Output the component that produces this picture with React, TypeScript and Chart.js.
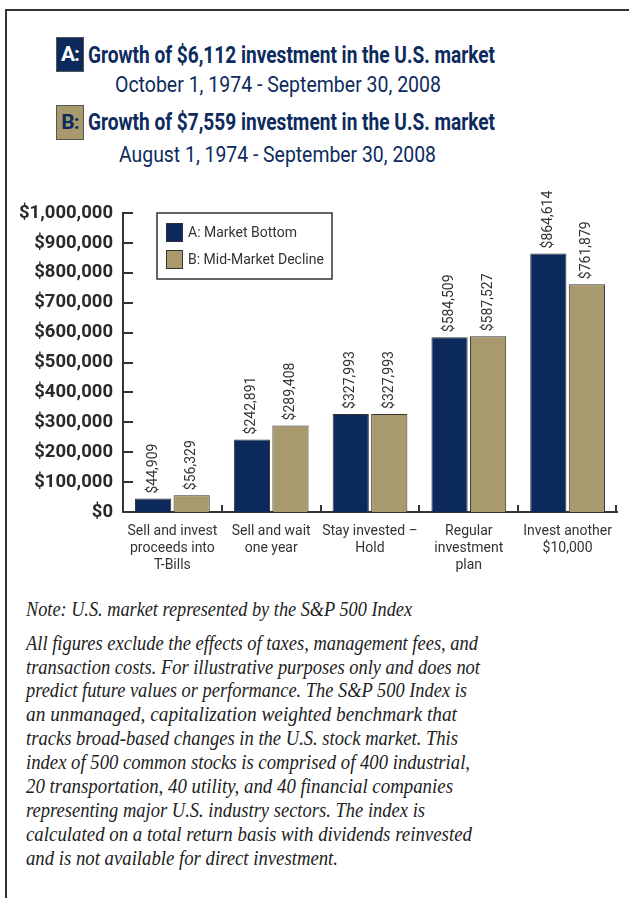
import React, { useEffect, useLayoutEffect, useRef } from "react";
import { Chart, registerables } from "chart.js";

Chart.register(...registerables);

// ---------- DATA ----------
const categories: string[][] = [
  ["Sell and invest", "proceeds into", "T-Bills"],
  ["Sell and wait", "one year"],
  ["Stay invested –", "Hold"],
  ["Regular", "investment", "plan"],
  ["Invest another", "$10,000"],
];
const seriesLabels = ["A: Market Bottom", "B: Mid-Market Decline"];
const marketBottom = [44909, 242891, 327993, 584509, 864614];
const midMarketDecline = [56329, 289408, 327993, 587527, 761879];
const yMin = 0;
const yMax = 1000000;
const yStep = 100000;

const titleA = "Growth of $6,112 investment in the U.S. market";
const subtitleA = "October 1, 1974 - September 30, 2008";
const titleB = "Growth of $7,559 investment in the U.S. market";
const subtitleB = "August 1, 1974 - September 30, 2008";

const noteText = "Note: U.S. market represented by the S&P 500 Index";
const disclaimerLines = [
  "All figures exclude the effects of taxes, management fees, and",
  "transaction costs. For illustrative purposes only and does not",
  "predict future values or performance. The S&P 500 Index is",
  "an unmanaged, capitalization weighted benchmark that",
  "tracks broad-based changes in the U.S. stock market. This",
  "index of 500 common stocks is comprised of 400 industrial,",
  "20 transportation, 40 utility, and 40 financial companies",
  "representing major U.S. industry sectors. The index is",
  "calculated on a total return basis with dividends reinvested",
  "and is not available for direct investment.",
];

// ---------- LAYOUT / STYLE ----------
const NAVY = "#0b2a5b";
const KHAKI = "#a89a6c";
const TEXT_NAVY = "#0d2b5e";
const DARK = "#333333";
const SANS = "Roboto, 'Noto Sans', sans-serif";
const SERIF = "'Liberation Serif', 'DejaVu Serif', serif";
const disclaimerWidths = [452, 454, 441, 431, 432, 444, 427, 399, 446, 312];
const CANVAS_TOP = 180;
const CANVAS_W = 629;
const CANVAS_H = 410;

function FitText(props: { text: string; left: number; top: number; width: number; style: React.CSSProperties }) {
  const ref = useRef<HTMLSpanElement>(null);
  useLayoutEffect(() => {
    const el = ref.current;
    if (!el) return;
    el.style.transform = "none";
    const w = el.getBoundingClientRect().width;
    if (w > 0) el.style.transform = `scaleX(${props.width / w})`;
  }, [props.text, props.width]);
  return (
    <span
      ref={ref}
      style={{
        position: "absolute",
        left: props.left,
        top: props.top,
        whiteSpace: "nowrap",
        display: "inline-block",
        transformOrigin: "0 0",
        ...props.style,
      }}
    >
      {props.text}
    </span>
  );
}

const fmt = (v: number) => "$" + v.toLocaleString("en-US");

const decorPlugin = {
  id: "decor",
  afterDatasetsDraw(chart: any) {
    const { ctx, chartArea, scales } = chart;
    const ys = scales.y;
    ctx.save();
    ctx.strokeStyle = DARK;
    ctx.lineWidth = 2;
    // inward y ticks
    ys.ticks.forEach((t: any) => {
      const py = Math.round(ys.getPixelForValue(t.value));
      ctx.beginPath();
      ctx.moveTo(chartArea.left, py);
      ctx.lineTo(chartArea.left + 10, py);
      ctx.stroke();
    });
    // category boundary ticks on x axis
    const n = chart.data.labels.length;
    const cw = (chartArea.right - chartArea.left) / n;
    for (let i = 1; i <= n; i++) {
      const px = Math.round(chartArea.left + i * cw) - (i === n ? 1 : 0);
      ctx.beginPath();
      ctx.moveTo(px, chartArea.bottom);
      ctx.lineTo(px, chartArea.bottom - 7);
      ctx.stroke();
    }
    // rotated value labels
    ctx.fillStyle = DARK;
    ctx.font = `14px ${SANS}`;
    ctx.textAlign = "left";
    ctx.textBaseline = "middle";
    chart.data.datasets.forEach((ds: any, di: number) => {
      const meta = chart.getDatasetMeta(di);
      meta.data.forEach((bar: any, i: number) => {
        ctx.save();
        ctx.translate(bar.x, bar.y - 5);
        ctx.rotate(-Math.PI / 2);
        ctx.fillText(fmt(ds.data[i]), 0, 0);
        ctx.restore();
      });
    });
    // legend box
    const bx = chartArea.left + 34;
    const by = chartArea.top;
    const bw = 175;
    const bh = 66;
    ctx.fillStyle = "#ffffff";
    ctx.fillRect(bx, by, bw, bh);
    ctx.lineWidth = 1.5;
    ctx.strokeStyle = DARK;
    ctx.strokeRect(bx, by, bw, bh);
    chart.data.datasets.forEach((ds: any, di: number) => {
      const sy = by + 10 + di * 27;
      ctx.fillStyle = ds.backgroundColor;
      ctx.fillRect(bx + 9, sy, 16, 18);
      ctx.lineWidth = 1;
      ctx.strokeStyle = DARK;
      ctx.strokeRect(bx + 9.5, sy + 0.5, 16, 18);
      ctx.fillStyle = DARK;
      ctx.font = `14px ${SANS}`;
      ctx.textBaseline = "middle";
      ctx.fillText(ds.label, bx + 31, sy + 10);
    });
    ctx.restore();
  },
};

function BarChart() {
  const ref = useRef<HTMLCanvasElement>(null);
  useEffect(() => {
    if (!ref.current) return;
    const chart = new Chart(ref.current, {
      type: "bar",
      data: {
        labels: categories,
        datasets: [
          {
            label: seriesLabels[0],
            data: marketBottom,
            backgroundColor: NAVY,
            borderColor: DARK,
            borderWidth: 1,
            categoryPercentage: 0.78,
            barPercentage: 0.94,
          },
          {
            label: seriesLabels[1],
            data: midMarketDecline,
            backgroundColor: KHAKI,
            borderColor: DARK,
            borderWidth: 1,
            categoryPercentage: 0.78,
            barPercentage: 0.94,
          },
        ],
      },
      options: {
        responsive: false,
        animation: false,
        layout: { padding: { left: 0, right: 12, top: 33, bottom: 0 } },
        plugins: { legend: { display: false }, tooltip: { enabled: false } },
        scales: {
          x: {
            grid: { display: false, drawTicks: false },
            border: { display: true, color: DARK, width: 2 },
            ticks: {
              color: DARK,
              font: { family: SANS, size: 14, lineHeight: 1.22 },
              padding: 11,
              maxRotation: 0,
              autoSkip: false,
            },
            afterFit: (s: any) => {
              s.height = 78;
            },
          },
          y: {
            min: yMin,
            max: yMax,
            grid: { display: false, drawTicks: false },
            border: { display: true, color: DARK, width: 2 },
            ticks: {
              stepSize: yStep,
              color: "#2a2a2a",
              font: { family: SANS, size: 18.5, weight: "bold" },
              padding: 10,
              callback: (v: any) => fmt(Number(v)),
            },
            afterFit: (s: any) => {
              s.width = 123;
            },
          },
        },
      },
      plugins: [decorPlugin],
    });
    return () => chart.destroy();
  }, []);
  return (
    <canvas
      ref={ref}
      width={CANVAS_W}
      height={CANVAS_H}
      style={{ position: "absolute", left: 0, top: CANVAS_TOP, width: CANVAS_W, height: CANVAS_H, display: "block" }}
    />
  );
}

export default function App() {
  const titleStyle: React.CSSProperties = { fontFamily: SANS, fontWeight: 700, fontSize: 24, lineHeight: "24px", color: TEXT_NAVY };
  const subStyle: React.CSSProperties = { fontFamily: SANS, fontWeight: 400, fontSize: 22, lineHeight: "22px", color: TEXT_NAVY };
  const footStyle: React.CSSProperties = { fontFamily: SERIF, fontStyle: "italic", fontSize: 20.5, lineHeight: "23.9px", color: "#222" };
  const boxStyle: React.CSSProperties = {
    position: "absolute",
    left: 56,
    width: 28,
    height: 35,
    boxSizing: "border-box",
    border: "1px solid #555",
    fontFamily: SANS,
    fontWeight: 700,
    fontSize: 21,
    lineHeight: "33px",
    textAlign: "center",
    letterSpacing: "-1px",
  };
  return (
    <div style={{ position: "absolute", left: 0, top: 0, width: 629, height: 898, overflow: "hidden", background: "#fff" }}>
      <div style={{ position: "absolute", left: 5, top: 9, width: 800, height: 1000, border: "2px solid #333" }} />
      <div style={{ ...boxStyle, top: 37, background: NAVY, color: "#fff" }}>A:</div>
      <div style={{ ...boxStyle, top: 105, background: KHAKI, color: TEXT_NAVY }}>B:</div>
      <FitText text={titleA} left={88} top={43} width={407} style={titleStyle} />
      <FitText text={subtitleA} left={115} top={73.5} width={326} style={subStyle} />
      <FitText text={titleB} left={88} top={110} width={407} style={titleStyle} />
      <FitText text={subtitleB} left={119} top={143.5} width={317} style={subStyle} />
      <BarChart />
      <FitText text={noteText} left={26} top={597.6} width={386} style={footStyle} />
      {disclaimerLines.map((ln, i) => (
        <FitText key={i} text={ln} left={26} top={631.6 + i * 23.9} width={disclaimerWidths[i]} style={footStyle} />
      ))}
    </div>
  );
}
